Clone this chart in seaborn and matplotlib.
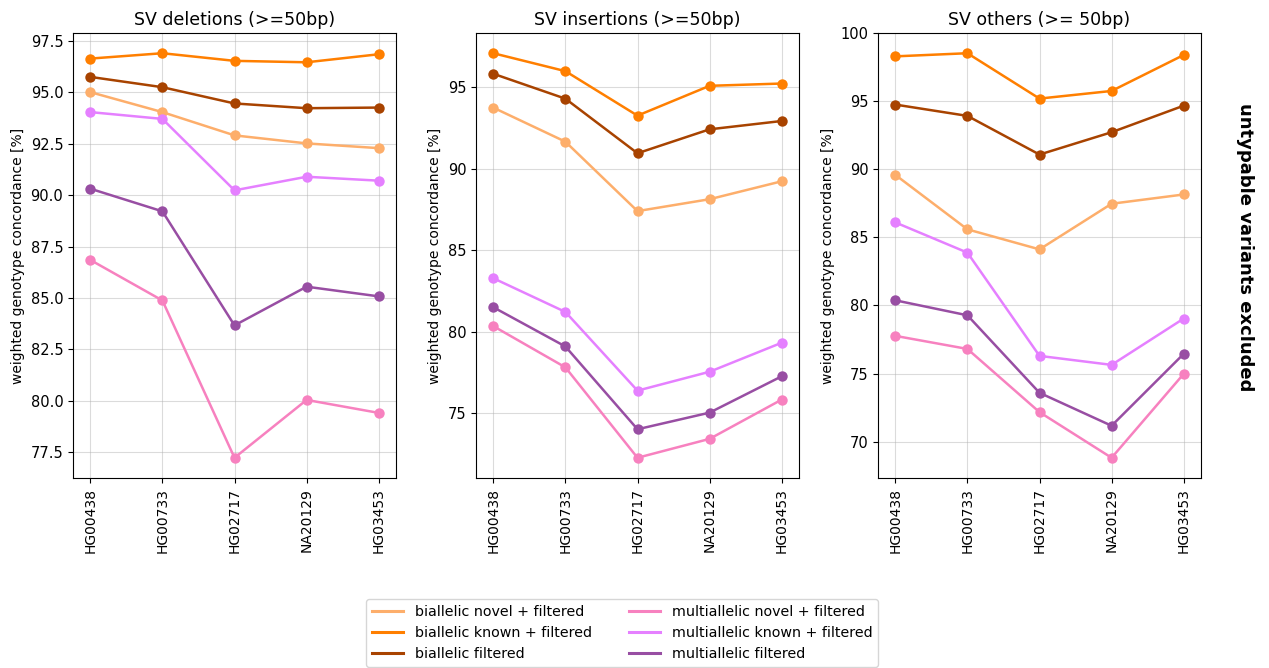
import pandas as pd
import matplotlib
matplotlib.use("Agg")
import matplotlib.pyplot as plt
from matplotlib.lines import Line2D
import seaborn as sns

samples = ["HG00438", "HG00733", "HG02717", "NA20129", "HG03453"]
series = ["biallelic novel + filtered", "biallelic known + filtered", "biallelic filtered",
          "multiallelic novel + filtered", "multiallelic known + filtered", "multiallelic filtered"]
colors = ["#fdae6b", "#ff7f00", "#a84300", "#f781bf", "#e580ff", "#984ea3"]
titles = ["SV deletions (>=50bp)", "SV insertions (>=50bp)", "SV others (>= 50bp)"]

deletions = {
    "biallelic novel + filtered": [95.00, 94.03, 92.90, 92.51, 92.28],
    "biallelic known + filtered": [96.63, 96.89, 96.52, 96.45, 96.84],
    "biallelic filtered": [95.74, 95.24, 94.45, 94.22, 94.25],
    "multiallelic novel + filtered": [86.85, 84.88, 77.24, 80.05, 79.42],
    "multiallelic known + filtered": [94.03, 93.70, 90.23, 90.89, 90.70],
    "multiallelic filtered": [90.31, 89.21, 83.67, 85.55, 85.08],
}
insertions = {
    "biallelic novel + filtered": [93.76, 91.67, 87.41, 88.14, 89.24],
    "biallelic known + filtered": [97.10, 96.00, 93.27, 95.10, 95.24],
    "biallelic filtered": [95.84, 94.31, 90.96, 92.43, 92.94],
    "multiallelic novel + filtered": [80.35, 77.82, 72.27, 73.43, 75.84],
    "multiallelic known + filtered": [83.29, 81.22, 76.39, 77.55, 79.33],
    "multiallelic filtered": [81.51, 79.10, 74.02, 75.04, 77.27],
}
others = {
    "biallelic novel + filtered": [89.59, 85.59, 84.12, 87.47, 88.15],
    "biallelic known + filtered": [98.29, 98.52, 95.19, 95.75, 98.39],
    "biallelic filtered": [94.75, 93.92, 91.08, 92.72, 94.67],
    "multiallelic novel + filtered": [77.77, 76.81, 72.17, 68.82, 74.98],
    "multiallelic known + filtered": [86.10, 83.88, 76.30, 75.64, 79.04],
    "multiallelic filtered": [80.38, 79.28, 73.59, 71.17, 76.45],
}

def to_long(d):
    rows = []
    for name in series:
        for s, v in zip(samples, d[name]):
            rows.append({"sample": s, "concordance": v, "mode": name})
    return pd.DataFrame(rows)

palette = dict(zip(series, colors))

fig = plt.figure(figsize=(12.69, 6.68), dpi=100)
W, H = 1269, 668
lefts = [73, 476, 878]
axes = [fig.add_axes([l / W, 1 - 478 / H, 323 / W, 445 / H]) for l in lefts]

for ax, d, title in zip(axes, [deletions, insertions, others], titles):
    df = to_long(d)
    sns.lineplot(data=df, x="sample", y="concordance", hue="mode", palette=palette,
                 marker="o", markersize=7.5, markeredgewidth=0, linewidth=1.8,
                 sort=False, ax=ax, legend=False)
    ax.set_title(title, fontsize=12.5)
    ax.set_xlabel("")
    ax.set_ylabel("weighted genotype concordance [%]", fontsize=10)
    ax.tick_params(axis="x", labelrotation=90, labelsize=10)
    ax.tick_params(axis="y", labelsize=10.5)
    ax.grid(True, color="#b0b0b0", alpha=0.45, linewidth=0.8)
    ax.set_axisbelow(True)
    ax.set_xlim(-0.24, 4.24)

# keep the 100 tick visible on the last panel
lo, hi = axes[2].get_ylim()
axes[2].set_ylim(lo, max(hi, 100.0))

fig.text(1245 / W, 1 - 247 / H, "untypable variants excluded", rotation=-90,
         fontsize=13, fontweight="bold", ha="center", va="center")

handles = [Line2D([0], [0], color=c, linewidth=2.2) for c in colors]
fig.legend(handles, series, loc="upper center", ncol=2, fontsize=10.3,
           bbox_to_anchor=(622 / W, 1 - 592 / H), frameon=True,
           handlelength=2.2, columnspacing=2.6, labelspacing=0.5)

fig.savefig("out.png", dpi=100)
